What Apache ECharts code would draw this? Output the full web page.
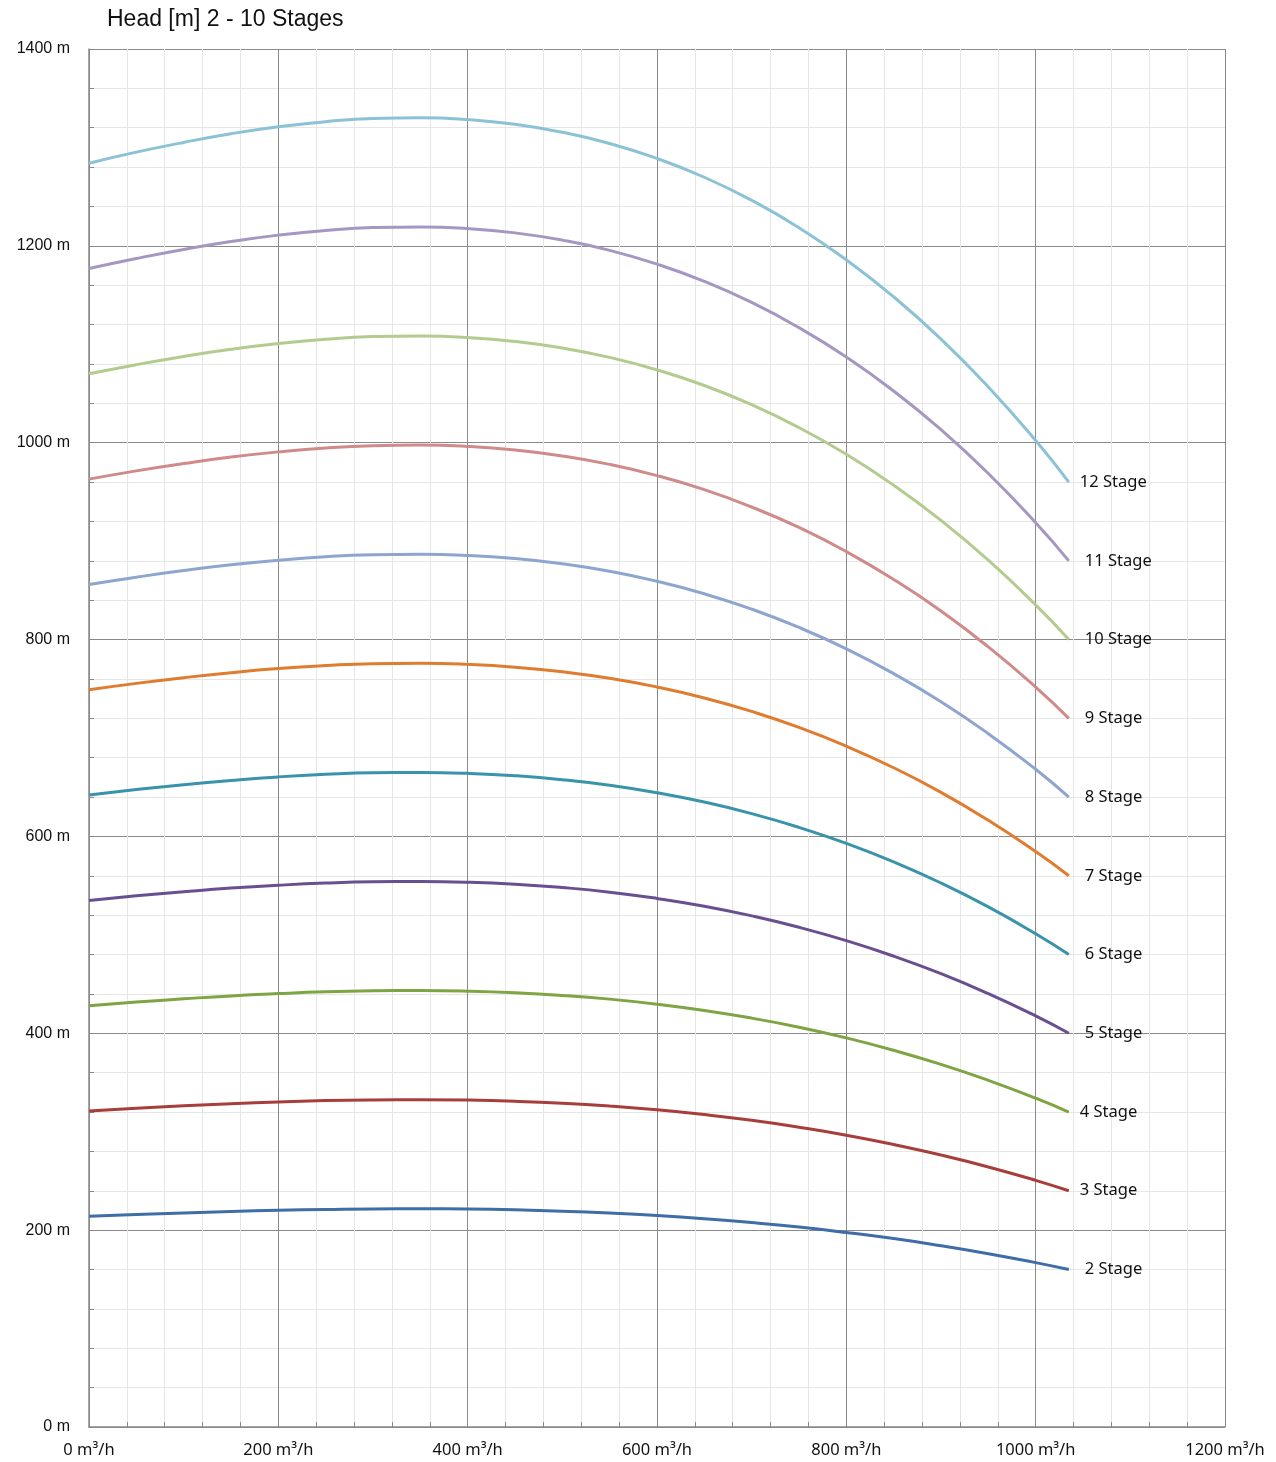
<!DOCTYPE html>
<html>
<head>
<meta charset="utf-8">
<script src="https://cdn.jsdelivr.net/npm/echarts@6/dist/echarts.min.js"></script>
<style>
html,body{margin:0;padding:0;background:#fff;}
#chart{width:1276px;height:1462px;}
</style>
</head>
<body>
<div id="chart"></div>
<script>
const titleText = 'Head [m] 2 - 10 Stages';
const flow = [0, 50, 100, 150, 200, 250, 300, 350, 400, 450, 500, 550, 600, 650, 700, 750, 800, 850, 900, 950, 1000, 1035];
const stageNames = ['2 Stage','3 Stage','4 Stage','5 Stage','6 Stage','7 Stage','8 Stage','9 Stage','10 Stage','11 Stage','12 Stage'];
const stage2  = [214.0, 215.9, 217.5, 219.0, 220.2, 221.0, 221.6, 221.7, 221.4, 220.6, 219.2, 217.3, 214.8, 211.6, 207.7, 203.1, 197.6, 191.4, 184.2, 176.1, 167.0, 160.0];
const stage3  = [321.0, 323.8, 326.3, 328.5, 330.2, 331.6, 332.3, 332.5, 332.1, 330.9, 328.9, 326.0, 322.2, 317.4, 311.6, 304.6, 296.5, 287.0, 276.3, 264.2, 250.6, 240.0];
const stage4  = [428.0, 431.7, 435.0, 438.0, 440.3, 442.1, 443.1, 443.4, 442.8, 441.2, 438.5, 434.7, 429.6, 423.2, 415.4, 406.2, 395.3, 382.7, 368.4, 352.2, 334.1, 320.0];
const stage5  = [535.0, 539.7, 543.8, 547.5, 550.4, 552.6, 553.9, 554.2, 553.5, 551.5, 548.1, 543.4, 537.0, 529.1, 519.3, 507.7, 494.1, 478.4, 460.6, 440.3, 417.6, 400.0];
const stage6  = [642.0, 647.6, 652.6, 656.9, 660.5, 663.1, 664.7, 665.0, 664.1, 661.7, 657.7, 652.0, 644.4, 634.9, 623.2, 609.2, 592.9, 574.1, 552.7, 528.4, 501.1, 480.0];
const stage7  = [749.0, 755.5, 761.3, 766.4, 770.6, 773.6, 775.5, 775.9, 774.8, 772.0, 767.3, 760.7, 751.8, 740.7, 727.0, 710.8, 691.7, 669.8, 644.8, 616.4, 584.6, 560.0];
const stage8  = [856.0, 863.4, 870.1, 875.9, 880.6, 884.2, 886.2, 886.7, 885.5, 882.3, 877.0, 869.4, 859.2, 846.5, 830.9, 812.3, 790.6, 765.4, 736.9, 704.4, 668.2, 640.0];
const stage9  = [963.0, 971.4, 978.8, 985.4, 990.7, 994.7, 997.0, 997.6, 996.2, 992.6, 986.6, 978.0, 966.6, 952.3, 934.7, 913.9, 889.4, 861.1, 829.0, 792.5, 751.7, 720.0];
const stage10 = [1070.0, 1079.3, 1087.6, 1094.9, 1100.8, 1105.2, 1107.8, 1108.4, 1106.9, 1102.9, 1096.2, 1086.7, 1074.0, 1058.1, 1038.6, 1015.4, 988.2, 956.8, 921.1, 880.6, 835.2, 800.0];
const stage11 = [1177.0, 1187.2, 1196.4, 1204.4, 1210.9, 1215.7, 1218.6, 1219.2, 1217.6, 1213.2, 1205.8, 1195.4, 1181.4, 1163.9, 1142.5, 1116.9, 1087.0, 1052.5, 1013.2, 968.7, 918.7, 880.0];
const stage12 = [1284.0, 1295.2, 1305.1, 1313.9, 1321.0, 1326.2, 1329.4, 1330.1, 1328.3, 1323.5, 1315.4, 1304.0, 1288.8, 1269.7, 1246.3, 1218.5, 1185.8, 1148.2, 1105.3, 1056.7, 1002.2, 960.0];
const stageData = [stage2, stage3, stage4, stage5, stage6, stage7, stage8, stage9, stage10, stage11, stage12];
const colors = ['#3F6DA7','#A83E3B','#7EA443','#694F8F','#3993AB','#E07C2F','#8DA5CF','#CF8B8A','#B4CB8F','#A597C1','#8BC2D6'];
const labelDist = [16, 11, 11, 16, 16, 16, 16, 16, 16, 16, 11];

const chart = echarts.init(document.getElementById('chart'));
const series = stageData.map((vals, i) => ({
  name: stageNames[i],
  type: 'line',
  data: flow.map((f, j) => [f, vals[j]]),
  smooth: 0.5,
  symbol: 'none',
  lineStyle: { width: 3, color: colors[i] },
  itemStyle: { color: colors[i] },
  endLabel: {
    show: true,
    formatter: '{a}',
    distance: labelDist[i],
    color: '#111',
    fontFamily: 'Noto Sans',
    fontSize: 16.5
  },
  z: 3
}));

chart.setOption({
  animation: false,
  title: {
    text: titleText,
    left: 102,
    top: 3,
    textStyle: { fontFamily: 'Liberation Sans', fontSize: 23, fontWeight: 'normal', color: '#111' }
  },
  grid: { left: 89, right: 51, top: 49, bottom: 35, containLabel: false },
  xAxis: {
    type: 'value',
    min: 0, max: 1200, interval: 200,
    axisLine: { show: true, lineStyle: { color: '#888', width: 1.5 } },
    axisTick: { show: true, inside: true, length: 5, lineStyle: { color: '#888' } },
    minorTick: { show: true, splitNumber: 5, length: 5, lineStyle: { color: '#888' } },
    splitLine: { show: true, lineStyle: { color: '#8a8a8a', width: 1 } },
    minorSplitLine: { show: true, lineStyle: { color: '#e6e6e6', width: 1 } },
    axisLabel: {
      margin: 15,
      formatter: v => v + ' m³/h',
      fontFamily: 'Noto Sans', fontSize: 16.5, color: '#111'
    }
  },
  yAxis: {
    type: 'value',
    min: 0, max: 1400, interval: 200,
    axisLine: { show: true, lineStyle: { color: '#888', width: 1.5 } },
    axisTick: { show: true, inside: true, length: 5, lineStyle: { color: '#888' } },
    minorTick: { show: true, splitNumber: 5, length: 5, lineStyle: { color: '#888' } },
    splitLine: { show: true, lineStyle: { color: '#8a8a8a', width: 1 } },
    minorSplitLine: { show: true, lineStyle: { color: '#e6e6e6', width: 1 } },
    axisLabel: {
      margin: 19,
      formatter: v => v + ' m',
      fontFamily: 'Liberation Sans', fontSize: 16, color: '#111'
    }
  },
  series: series
});
</script>
</body>
</html>
